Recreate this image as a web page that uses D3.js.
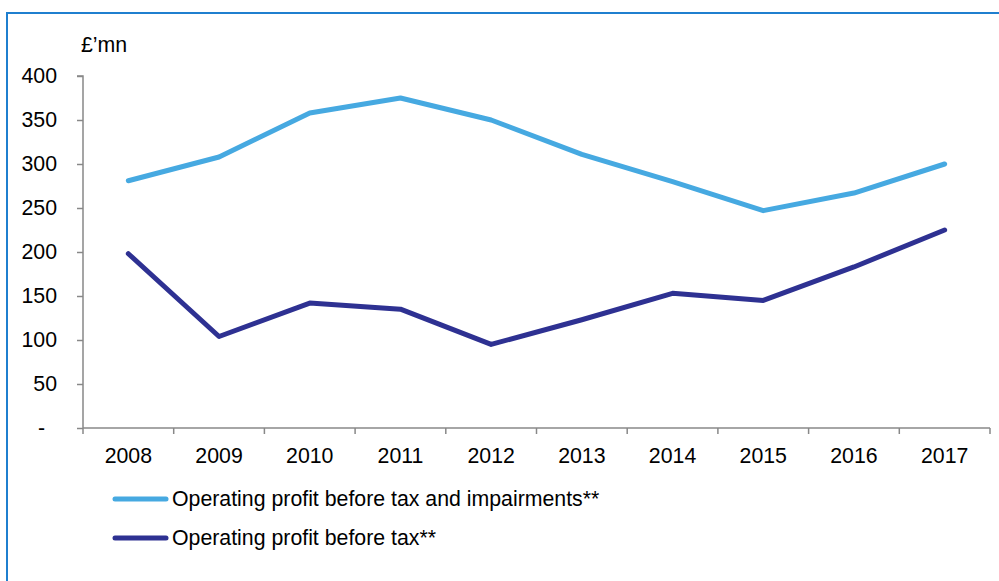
<!DOCTYPE html>
<html>
<head>
<meta charset="utf-8">
<script src="https://cdn.jsdelivr.net/npm/d3@7"></script>
<style>
  html, body { margin: 0; padding: 0; background: #fff; }
  svg { display: block; }
  text { font-family: "Liberation Sans", Arial, sans-serif; fill: #000; }
</style>
</head>
<body>
<svg id="chart" width="999" height="581"></svg>
<script>
// Operating profit, £ million, by year
const years = ["2008", "2009", "2010", "2011", "2012", "2013", "2014", "2015", "2016", "2017"];
const profitBeforeTaxAndImpairments = [281, 308, 358, 375, 350, 311, 280, 247, 267, 300];
const profitBeforeTax = [198, 104, 142, 135, 95, 123, 153, 145, 183, 225];
const yTicks = [0, 50, 100, 150, 200, 250, 300, 350, 400];
const seriesNames = ["Operating profit before tax and impairments**", "Operating profit before tax**"];
const seriesColors = ["#46a9e1", "#2e3192"];

const fontSize = "21.3px";
const svg = d3.select("#chart");

// outer frame
svg.append("rect")
  .attr("x", 7).attr("y", 13)
  .attr("width", 1010).attr("height", 600)
  .attr("fill", "none")
  .attr("stroke", "#1f7fcf")
  .attr("stroke-width", 2);

const plotLeft = 83, plotRight = 990, plotTop = 76, plotBottom = 428;

const x = d3.scaleBand().domain(years).range([plotLeft, plotRight]);
const y = d3.scaleLinear().domain([0, 400]).range([plotBottom, plotTop]);

// y axis
const yAxis = svg.append("g")
  .attr("transform", `translate(${plotLeft},0)`)
  .call(d3.axisLeft(y).tickValues(yTicks).tickSize(6).tickPadding(20)
    .tickFormat(d => d === 0 ? "-" : d));
yAxis.selectAll("path, line").attr("stroke", "#888").attr("stroke-width", 1.5);
yAxis.select(".domain").attr("d", `M-6,${plotTop}H0V${plotBottom}`);
yAxis.selectAll("text")
  .style("font-family", '"Liberation Sans", Arial, sans-serif')
  .style("font-size", fontSize).attr("fill", "#000");
// accounting-style dash for zero sits further left
yAxis.selectAll(".tick text").filter(d => d === 0).attr("dx", -12);

// x axis with ticks on band boundaries
const xAxis = svg.append("g")
  .attr("transform", `translate(0,${plotBottom})`);
xAxis.append("line")
  .attr("x1", plotLeft).attr("x2", plotRight)
  .attr("stroke", "#888").attr("stroke-width", 1.5);
const bounds = years.map(d => x(d)).concat([plotRight]);
xAxis.selectAll("line.tick")
  .data(bounds).join("line")
  .attr("class", "tick")
  .attr("x1", d => d).attr("x2", d => d)
  .attr("y1", 0).attr("y2", 6)
  .attr("stroke", "#888").attr("stroke-width", 1.5);
xAxis.selectAll("text")
  .data(years).join("text")
  .attr("x", d => x(d) + x.bandwidth() / 2)
  .attr("y", 35)
  .attr("text-anchor", "middle")
  .style("font-size", fontSize)
  .text(d => d);

// unit label
svg.append("text")
  .attr("x", 81).attr("y", 52)
  .style("font-size", fontSize)
  .text("£’mn");

const line = d3.line()
  .x((d, i) => x(years[i]) + x.bandwidth() / 2)
  .y(d => y(d));

[profitBeforeTaxAndImpairments, profitBeforeTax].forEach((vals, k) => {
  svg.append("path")
    .datum(vals)
    .attr("d", line)
    .attr("fill", "none")
    .attr("stroke", seriesColors[k])
    .attr("stroke-width", 5)
    .attr("stroke-linejoin", "round")
    .attr("stroke-linecap", "round");
});

// legend
const legend = svg.append("g");
seriesNames.forEach((name, k) => {
  const ly = 499 + k * 39;
  legend.append("line")
    .attr("x1", 115).attr("x2", 166)
    .attr("y1", ly).attr("y2", ly)
    .attr("stroke", seriesColors[k])
    .attr("stroke-width", 5)
    .attr("stroke-linecap", "round");
  legend.append("text")
    .attr("x", 172).attr("y", ly + 7)
    .style("font-size", fontSize)
    .text(name);
});
</script>
</body>
</html>
